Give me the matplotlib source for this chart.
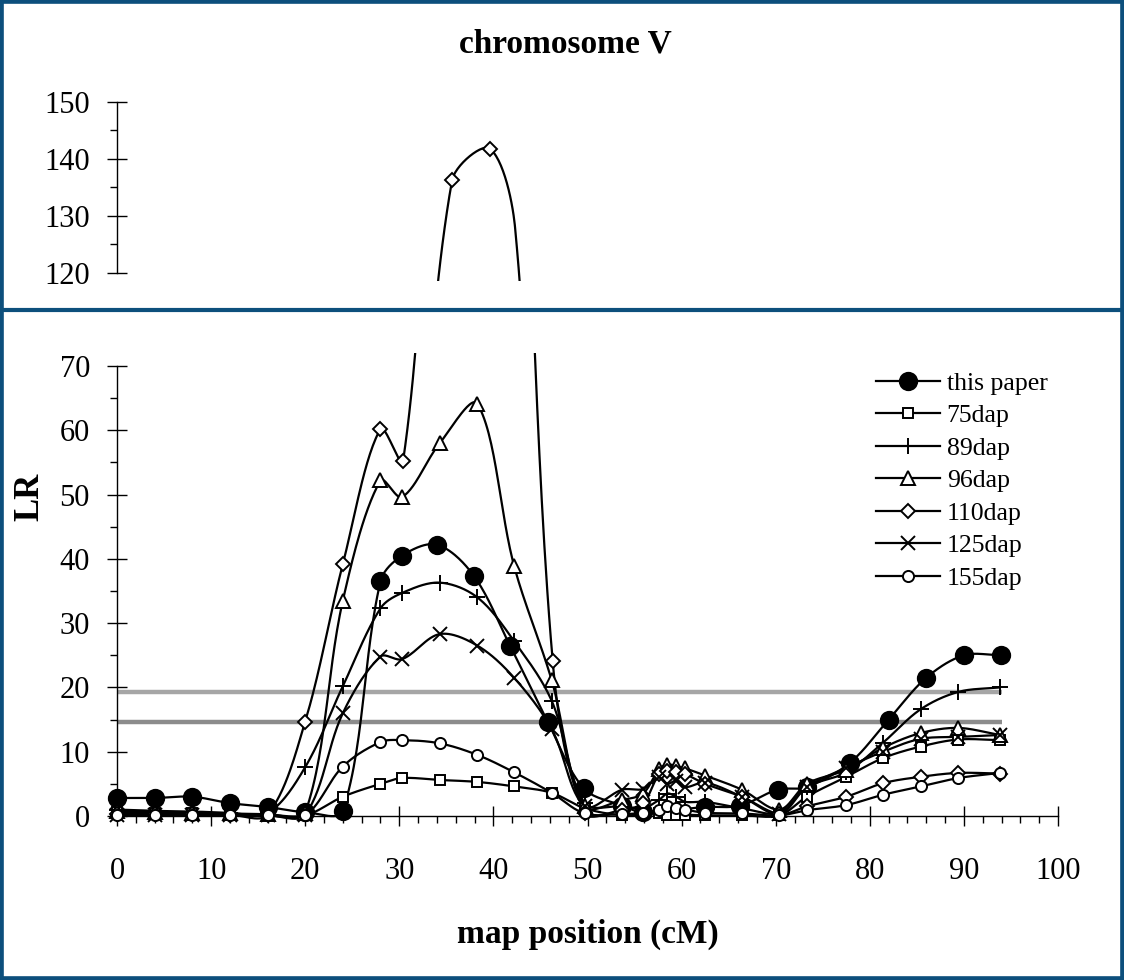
import numpy as np
import matplotlib
matplotlib.use("Agg")
import matplotlib.pyplot as plt
from matplotlib.lines import Line2D

plt.rcParams['font.family'] = ['Liberation Serif', 'DejaVu Serif']

# ---------------- data ----------------
x_this = [0, 4, 8, 12, 16, 20, 24, 28, 30.3, 34.0, 37.9, 41.8, 45.8, 49.6, 53.7, 55.9,
          62.5, 66.2, 70.2, 73.3, 77.9, 82.0, 86.0, 90.0, 93.9]
y_this = [2.8, 2.8, 3.0, 2.0, 1.4, 0.6, 0.8, 36.5, 40.5, 42.2, 37.4, 26.4, 14.6, 4.3, 1.6, 0.6,
          1.4, 1.6, 4.1, 4.5, 8.3, 15.0, 21.5, 25.0, 25.0]

x_other = [0, 4, 8, 12, 16, 20, 24, 28, 30.3, 34.3, 38.3, 42.2, 46.2, 49.7, 53.7, 55.9,
           57.6, 58.5, 59.4, 60.4, 62.5, 66.4, 70.4, 73.3, 77.5, 81.4, 85.4, 89.4, 93.8]
y_75 = [0.6, 0.5, 0.4, 0.3, 0.2, 0.1, 3.0, 5.0, 5.9, 5.6, 5.3, 4.6, 3.6, 1.2, 0.1, 0.3,
        0.5, 0.1, 0.2, 0.2, 0.1, 0.1, 0.1, 3.0, 6.1, 9.0, 10.8, 11.9, 11.8]
y_89 = [1.0, 0.8, 0.7, 0.5, 0.4, 7.6, 20.2, 32.3, 34.7, 36.3, 34.0, 27.2, 17.9, 2.0, 1.5, 1.2,
        2.5, 3.5, 3.0, 2.2, 2.2, 1.2, 0.5, 4.5, 6.8, 11.4, 16.6, 19.3, 20.0]
y_96 = [0.8, 0.6, 0.5, 0.4, 0.3, 0.5, 33.5, 52.2, 49.6, 58.0, 64.1, 38.9, 21.1, 1.5, 2.5, 3.5,
        7.3, 8.0, 7.8, 7.4, 6.3, 4.1, 1.0, 5.0, 7.2, 10.6, 12.9, 13.7, 12.6]
x_110 = [0, 4, 8, 12, 16, 20, 24, 28, 30.4, 35.6, 39.6, 42.3, 46.3, 49.7, 53.7, 55.9,
         57.6, 58.5, 59.4, 60.4, 62.5, 66.4, 70.4, 73.3, 77.5, 81.4, 85.4, 89.4, 93.8]
y_110 = [0.3, 0.3, 0.3, 0.2, 0.2, 14.7, 39.2, 60.2, 55.2, 136.2, 141.8, 128.0, 24.1, 0.5, 1.0, 2.0,
         6.5, 7.0, 6.8, 6.5, 5.0, 3.0, 0.3, 1.5, 3.0, 5.1, 6.1, 6.7, 6.6]
y_125 = [0.1, 0.1, 0.1, 0.1, 0.1, 0.2, 16.0, 24.8, 24.4, 28.3, 26.5, 21.5, 13.5, 1.5, 4.1, 4.2,
         6.1, 5.0, 5.5, 4.5, 5.2, 3.0, 0.3, 4.5, 7.5, 10.0, 12.0, 12.3, 12.6]
y_155 = [0.2, 0.2, 0.2, 0.1, 0.1, 0.1, 7.7, 11.5, 11.8, 11.3, 9.5, 6.8, 3.6, 0.4, 0.3, 0.5,
         1.0, 1.5, 1.3, 1.0, 0.5, 0.4, 0.1, 0.9, 1.7, 3.3, 4.6, 5.9, 6.7]

thresholds = [19.3, 14.7]
threshold_colors = ['#A6A6A6', '#8C8C8C']
threshold_span = [0, 94]

labels = ['this paper', '75dap', '89dap', '96dap', '110dap', '125dap', '155dap']
xs = [x_this, x_other, x_other, x_other, x_110, x_other, x_other]
ys = [y_this, y_75, y_89, y_96, y_110, y_125, y_155]
markers = ['o', 's', '+', '^', 'D', 'x', 'o']
msizes = [12.5, 7.5, 11, 9.5, 7.5, 10, 8]
fills = ['black', 'white', 'white', 'white', 'white', 'white', 'white']

W, H = 1124, 980
x0px, x100px = 117, 1058
pxu = (x100px - x0px) / 100.0
y0px, y70px = 816, 366
pyu = (y0px - y70px) / 70.0


def smooth(x, y, n=30):
    """Excel-like smoothed line: cubic Bezier segments, tangents weighted by segment length."""
    pts = np.column_stack([np.asarray(x, float), np.asarray(y, float)])
    scale = np.array([pxu, pyu])
    N = len(pts)
    t = np.linspace(0, 1, n)[:, None]
    segs = []

    def dist(a, b):
        return np.hypot(*((b - a) * scale))

    for i in range(N - 1):
        p0 = pts[max(i - 1, 0)]
        p1 = pts[i]
        p2 = pts[i + 1]
        p3 = pts[min(i + 2, N - 1)]
        d01, d12, d23 = dist(p0, p1), dist(p1, p2), dist(p2, p3)
        f1 = d12 / (d01 + d12) / 3.0 if d01 + d12 > 0 else 0
        f2 = d12 / (d12 + d23) / 3.0 if d12 + d23 > 0 else 0
        c1 = p1 + (p2 - p0) * f1
        c2 = p2 - (p3 - p1) * f2
        b = ((1 - t) ** 3) * p1 + 3 * ((1 - t) ** 2) * t * c1 + 3 * (1 - t) * t ** 2 * c2 + t ** 3 * p2
        segs.append(b if i == 0 else b[1:])
    s = np.vstack(segs)
    return s[:, 0], s[:, 1]


fig = plt.figure(figsize=(W / 100, H / 100), dpi=100)

xlo, xhi = -1.5, 101.5
left = (x0px + xlo * pxu) / W
width = (xhi - xlo) * pxu / W

# bottom panel
ylo, yhi = -1.5, 72
b_bottom = (H - (y0px - ylo * pyu)) / H
b_top = (H - (y0px - yhi * pyu)) / H
axb = fig.add_axes([left, b_bottom, width, b_top - b_bottom])

# top panel
y150px, y120px = 101.7, 273
pyu2 = (y120px - y150px) / 30.0
tlo, thi = 118.6, 150.3
t_bottom = (H - (y120px + (120 - tlo) * pyu2)) / H
t_top = (H - (y150px - (thi - 150) * pyu2)) / H
axt = fig.add_axes([left, t_bottom, width, t_top - t_bottom])

for ax in (axb, axt):
    ax.set_xlim(xlo, xhi)
    ax.patch.set_alpha(0)
    for sp in ('top', 'right'):
        ax.spines[sp].set_visible(False)
    ax.spines['left'].set_position(('data', 0))
    ax.spines['left'].set_linewidth(1.0)

axb.set_ylim(ylo, yhi)
axt.set_ylim(tlo, thi)

# thresholds
for yv, c in zip(thresholds, threshold_colors):
    axb.plot(threshold_span, [yv, yv], color=c, lw=3.2, solid_capstyle='butt', zorder=1)

handles = []
for lab, x, y, m, ms, fc in zip(labels, xs, ys, markers, msizes, fills):
    sx, sy = smooth(x, y)
    mev = [i for i in range(len(x)) if not (lab == '110dap' and x[i] == 42.3)]
    for ax in (axb, axt):
        ax.plot(sx, sy, color='black', lw=1.6, zorder=2)
        ax.plot(np.array(x)[mev], np.array(y)[mev], linestyle='none', marker=m, ms=ms,
                mfc=fc, mec='black', mew=1.4, zorder=3)
    handles.append(Line2D([], [], color='black', lw=1.6, marker=m, ms=ms, mfc=fc,
                          mec='black', mew=1.4))

# bottom axes styling
axb.spines['bottom'].set_position(('data', 0))
axb.spines['bottom'].set_bounds(0, 100)
axb.spines['left'].set_bounds(0, 70)
axb.spines['bottom'].set_linewidth(1.0)
axb.set_xticks(np.arange(0, 101, 10))
axb.set_xticks(np.arange(0, 101, 2), minor=True)
axb.set_yticks(np.arange(0, 71, 10))
axb.set_yticks(np.arange(0, 71, 5), minor=True)
axb.tick_params(axis='x', which='major', direction='inout', length=15, width=1.0,
                labelsize=22, pad=22)
axb.tick_params(axis='x', which='minor', direction='out', length=5, width=1.0)
axb.tick_params(axis='y', which='major', direction='inout', length=15, width=1.0,
                labelsize=22, pad=12)
axb.tick_params(axis='y', which='minor', direction='out', length=5, width=1.0)

# top axes styling
axt.spines['bottom'].set_visible(False)
axt.spines['left'].set_bounds(120, 150)
axt.set_xticks([])
axt.set_yticks(np.arange(120, 151, 10))
axt.set_yticks(np.arange(120, 151, 5), minor=True)
axt.tick_params(axis='y', which='major', direction='inout', length=15, width=1.0,
                labelsize=22, pad=12)
axt.tick_params(axis='y', which='minor', direction='out', length=5, width=1.0)

# legend
axb.legend(handles, labels, loc='upper left', bbox_to_anchor=(876 / W, 1 - 372 / H),
           bbox_transform=fig.transFigure, frameon=False, fontsize=18.5,
           handlelength=2.5, handletextpad=0.25, labelspacing=0.37,
           borderpad=0, borderaxespad=0)

# texts
fig.text(0.503, 1 - 44 / H, 'chromosome V', ha='center', va='center',
         fontsize=24, fontweight='bold')
fig.text(0.523, 1 - 934 / H, 'map position (cM)', ha='center', va='center',
         fontsize=24, fontweight='bold')
fig.text(30 / W, 1 - 497 / H, 'LR', ha='center', va='center', rotation=90,
         fontsize=25, fontweight='bold')

# frame and divider
border = '#0D4F7C'
fig.patches.append(plt.Rectangle((0, 0), 1, 1, transform=fig.transFigure, fill=False,
                                 edgecolor=border, linewidth=5.5, zorder=10))
fig.lines.append(Line2D([0, 1], [1 - 310 / H, 1 - 310 / H], transform=fig.transFigure,
                        color=border, linewidth=3.0, zorder=10))

fig.savefig('out.png', dpi=100)
